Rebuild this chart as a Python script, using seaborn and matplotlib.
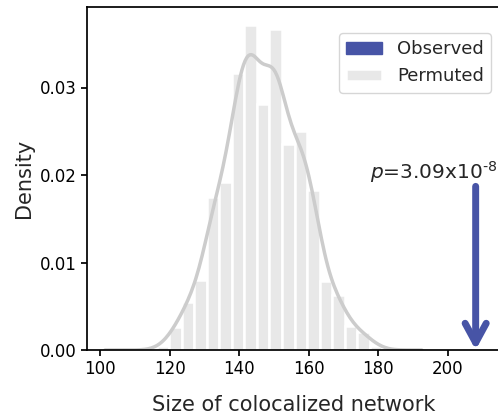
import numpy as np
import pandas as pd
import matplotlib
matplotlib.use("Agg")
import matplotlib.pyplot as plt
from matplotlib.patches import Patch
import seaborn as sns

# ---- data ----
bin_edges = [116.2, 119.8, 123.4, 127.0, 130.6, 134.2, 137.8, 141.4, 145.0, 148.6,
             152.2, 155.9, 159.5, 163.1, 166.7, 170.3, 173.9, 177.5, 181.1]
bin_centers = [118.0, 121.6, 125.2, 128.8, 132.4, 136.0, 139.6, 143.2, 146.8, 150.4,
               154.0, 157.7, 161.3, 164.9, 168.5, 172.1, 175.7, 179.3]
density = [0.0005, 0.0026, 0.0055, 0.0080, 0.0175, 0.0192, 0.0317, 0.0371, 0.0281, 0.0367,
           0.0235, 0.0250, 0.0183, 0.0079, 0.0063, 0.0027, 0.0021, 0.0005]
observed = 208.0
p_label = r"$p$=3.09x10$^{\text{-}8}$"
legend_labels = ["Observed", "Permuted"]
x_ticks = [100, 120, 140, 160, 180, 200]
y_ticks = [0.00, 0.01, 0.02, 0.03]

blue = "#4754a6"
bar_gray = "#e8e8e8"
kde_gray = "#cccccc"

sns.set_style("ticks")
plt.rcParams["font.family"] = ["DejaVu Sans"]
plt.rcParams["text.color"] = "#262626"
plt.rcParams["axes.labelcolor"] = "#262626"

df = pd.DataFrame({"size": bin_centers, "density": density})

fig = plt.figure(figsize=(4.98, 4.17), dpi=100)
ax = fig.add_axes([87 / 498, 67 / 417, 413 / 498, 343 / 417])

sns.histplot(data=df, x="size", weights="density", bins=bin_edges, stat="count",
             color=bar_gray, edgecolor="white", linewidth=1.8, alpha=1, ax=ax)
sns.kdeplot(data=df, x="size", weights="density", bw_adjust=0.42, cut=7,
            clip=(101.4, 192.5), color=kde_gray, lw=2.5, ax=ax)

ax.annotate("", xy=(observed, 0), xytext=(observed, 0.0187),
            arrowprops=dict(arrowstyle="->,head_length=0.35,head_width=0.19",
                            color=blue, lw=5, mutation_scale=40,
                            shrinkA=0, shrinkB=0))
ax.text(195.8, 0.0196, p_label, ha="center", va="baseline", fontsize=14.5)

ax.set_xlim(96.2, 215.0)
ax.set_ylim(0, 0.0392)
ax.set_xticks(x_ticks)
ax.set_yticks(y_ticks)
ax.set_yticklabels([f"{v:.2f}" for v in y_ticks])
ax.tick_params(labelsize=12, length=4, width=1.25, color="black", labelcolor="black")
for s in ax.spines.values():
    s.set_linewidth(1.25)
    s.set_color("black")
ax.set_xlabel("Size of colocalized network", fontsize=15, labelpad=12)
ax.set_ylabel("Density", fontsize=15, labelpad=4)

handles = [Patch(facecolor=blue, edgecolor=blue),
           Patch(facecolor=bar_gray, edgecolor="white", linewidth=1.8)]
ax.legend(handles, legend_labels, loc="upper right", bbox_to_anchor=(0.978, 0.924),
          borderaxespad=0, fontsize=13, frameon=True)

fig.savefig("out.png", dpi=100)
